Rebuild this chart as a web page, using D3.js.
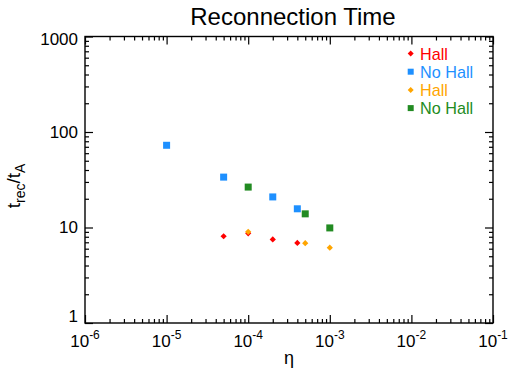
<!DOCTYPE html>
<html><head><meta charset="utf-8">
<script src="https://cdn.jsdelivr.net/npm/d3@7"></script>
<style>body{margin:0;background:#fff}svg{font-family:"Liberation Sans",Arial,Helvetica,sans-serif}</style>
</head><body><svg id="c" width="508" height="371"></svg>
<script>
const xTickExps = [-6, -5, -4, -3, -2, -1];
const yTickValues = [1, 10, 100, 1000];
const seriesNames = ["Hall", "No Hall", "Hall", "No Hall"];
const seriesColors = ["#ff0000", "#1e90ff", "#ffa500", "#228b22"];
const seriesSymbols = ["diamond", "square", "diamond", "square"];
const hallRedEta = [5e-5, 1e-4, 2e-4, 4e-4];
const hallRedT = [8.1, 8.7, 7.5, 6.9];
const noHallBlueEta = [1e-5, 5e-5, 2e-4, 4e-4];
const noHallBlueT = [72.6, 33.7, 20.9, 15.7];
const hallOrangeEta = [1e-4, 5e-4, 1e-3];
const hallOrangeT = [9.0, 6.85, 6.15];
const noHallGreenEta = [1e-4, 5e-4, 1e-3];
const noHallGreenT = [26.5, 13.9, 9.9];

const seriesEta = [hallRedEta, noHallBlueEta, hallOrangeEta, noHallGreenEta];
const seriesT = [hallRedT, noHallBlueT, hallOrangeT, noHallGreenT];

const L = 85, R = 493, T = 36.5, B = 323;
const svg = d3.select("#c");
const x = d3.scaleLog().domain([1e-6, 1e-1]).range([L, R]);
const y = d3.scaleLog().domain([1, 1000]).range([B, T]);

const xMajor = xTickExps.map(e => Math.pow(10, e));
const xMinor = [];
for (let e = -6; e < -1; e++) for (let k = 2; k <= 9; k++) xMinor.push(k * Math.pow(10, e));
const yMinor = [];
for (let e = 0; e < 3; e++) for (let k = 2; k <= 9; k++) yMinor.push(k * Math.pow(10, e));

function addAxis(axisFn, scale, vals, size, tx, ty) {
  const g = svg.append("g").attr("transform", `translate(${tx},${ty})`)
    .call(axisFn(scale).tickValues(vals).tickSize(size).tickSizeOuter(0).tickFormat(""));
  g.select(".domain").remove();
  g.selectAll("line").attr("stroke", "#000").attr("stroke-width", 1.2);
}
addAxis(d3.axisTop, x, xMajor, 8, 0, B);
addAxis(d3.axisTop, x, xMinor, 4, 0, B);
addAxis(d3.axisBottom, x, xMajor, 8, 0, T);
addAxis(d3.axisBottom, x, xMinor, 4, 0, T);
addAxis(d3.axisRight, y, yTickValues, 8, L, 0);
addAxis(d3.axisRight, y, yMinor, 4, L, 0);
addAxis(d3.axisLeft, y, yTickValues, 8, R, 0);
addAxis(d3.axisLeft, y, yMinor, 4, R, 0);

svg.append("rect").attr("x", L).attr("y", T).attr("width", R - L).attr("height", B - T)
  .attr("fill", "none").attr("stroke", "#000").attr("stroke-width", 1.4);

// x tick labels
xTickExps.forEach(e => {
  const t = svg.append("text").attr("x", x(Math.pow(10, e))).attr("y", 347)
    .attr("text-anchor", "middle").attr("font-size", 17).attr("fill", "#000");
  t.append("tspan").text("10");
  t.append("tspan").attr("dy", -8).attr("font-size", 12).text(String(e));
});
// y tick labels
yTickValues.forEach(v => {
  let cy = Math.min(Math.max(y(v), T + 3), B - 7);
  svg.append("text").attr("x", 78).attr("y", cy).attr("dy", "0.35em")
    .attr("text-anchor", "end").attr("font-size", 17).attr("fill", "#000").text(String(v));
});

// title
svg.append("text").attr("x", 293).attr("y", 25).attr("text-anchor", "middle")
  .attr("font-size", 24).attr("fill", "#000").text("Reconnection Time");
// x title
svg.append("text").attr("x", 289).attr("y", 364).attr("text-anchor", "middle")
  .attr("font-size", 18).attr("fill", "#000").text("η");
// y title
const yt = svg.append("text").attr("transform", "translate(20,186) rotate(-90)")
  .attr("text-anchor", "middle").attr("font-size", 19).attr("fill", "#000");
yt.append("tspan").text("t");
yt.append("tspan").attr("dy", 5).attr("font-size", 14).text("rec");
yt.append("tspan").attr("dy", -5).text("/t");
yt.append("tspan").attr("dy", 5).attr("font-size", 14).text("A");

function drawMarker(g, sym, cx, cy, color, s) {
  if (sym === "square") {
    g.append("rect").attr("x", cx - s).attr("y", cy - s).attr("width", 2 * s).attr("height", 2 * s).attr("fill", color);
  } else {
    const d = s * 1.15;
    g.append("path").attr("d", `M${cx},${cy - d}L${cx + d},${cy}L${cx},${cy + d}L${cx - d},${cy}Z`).attr("fill", color);
  }
}

const plot = svg.append("g");
seriesNames.forEach((n, i) => {
  seriesEta[i].forEach((eta, j) => {
    drawMarker(plot, seriesSymbols[i], x(eta), y(seriesT[i][j]), seriesColors[i],
      seriesSymbols[i] === "square" ? 3.5 : 2.7);
  });
});

// legend
const leg = svg.append("g");
seriesNames.forEach((n, i) => {
  const cy = 53.5 + i * 18.2;
  drawMarker(leg, seriesSymbols[i], 410.7, cy, seriesColors[i], seriesSymbols[i] === "square" ? 3 : 2.6);
  leg.append("text").attr("x", 420).attr("y", cy + 6).attr("font-size", 16.2)
    .attr("fill", seriesColors[i]).text(n);
});
</script></body></html>
